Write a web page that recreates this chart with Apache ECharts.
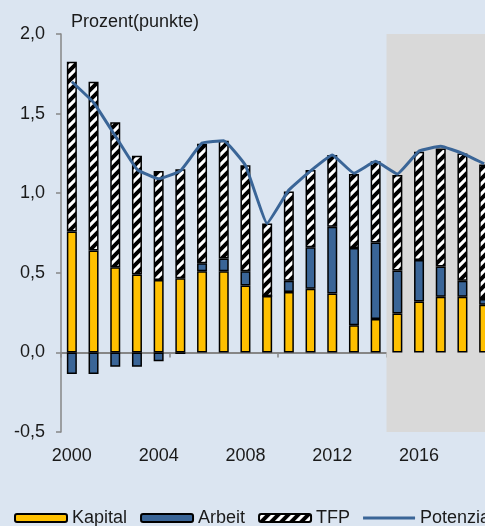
<!DOCTYPE html>
<html>
<head>
<meta charset="utf-8">
<script src="https://cdn.jsdelivr.net/npm/echarts@6/dist/echarts.min.js"></script>
<style>
  html, body { margin: 0; padding: 0; background: #dbe5f1; }
  #chart { width: 485px; height: 526px; }
</style>
</head>
<body>
<div id="chart"></div>
<script>
// Daten
const years = ['2000','2001','2002','2003','2004','2005','2006','2007','2008','2009',
               '2010','2011','2012','2013','2014','2015','2016','2017','2018','2019'];
const kapital = [0.76, 0.64, 0.535, 0.49, 0.455, 0.465, 0.51, 0.51, 0.42, 0.355,
                 0.38, 0.40, 0.37, 0.17, 0.21, 0.245, 0.32, 0.35, 0.35, 0.30];
const arbeit = [-0.135, -0.135, -0.09, -0.09, -0.055, -0.01, 0.05, 0.08, 0.09, 0,
                0.07, 0.26, 0.42, 0.485, 0.48, 0.27, 0.26, 0.19, 0.10, 0.035];
const tfp = [1.065, 1.06, 0.91, 0.745, 0.685, 0.685, 0.75, 0.74, 0.665, 0.455,
             0.56, 0.485, 0.45, 0.465, 0.51, 0.60, 0.68, 0.74, 0.80, 0.845];
const potenzial = [1.70, 1.57, 1.36, 1.15, 1.09, 1.14, 1.315, 1.33, 1.175, 0.81,
                   1.02, 1.14, 1.24, 1.125, 1.20, 1.12, 1.265, 1.295, 1.25, 1.185];
// Prognosezeitraum (Index der Kategorien)
const prognoseStart = 14.5;
const prognoseEnd = 19.5;

// Schraffur für TFP
const hatch = document.createElement('canvas');
hatch.width = 10;
hatch.height = 10;
const hctx = hatch.getContext('2d');
hctx.fillStyle = '#ffffff';
hctx.fillRect(0, 0, 10, 10);
hctx.strokeStyle = '#000000';
hctx.lineWidth = 4;
hctx.beginPath();
hctx.moveTo(-2, 12); hctx.lineTo(12, -2);
hctx.moveTo(-7, 7); hctx.lineTo(7, -7);
hctx.moveTo(3, 17); hctx.lineTo(17, 3);
hctx.stroke();

const chart = echarts.init(document.getElementById('chart'));
const font = 'Arial, "Liberation Sans", sans-serif';
const textColor = '#1a1a1a';
const axisGrey = '#868686';
const lineBlue = '#3a6597';

const barStyle = {
  borderColor: '#000',
  borderWidth: 1.5
};

const option = {
  backgroundColor: '#dbe5f1',
  animation: false,
  textStyle: { fontFamily: font },
  grid: { left: 61, top: 34, width: 434, bottom: 94, outerBoundsMode: 'none', containLabel: false },
  graphic: [{
    type: 'text',
    left: 71,
    top: 13,
    style: { text: 'Prozent(punkte)', font: '18px ' + font, fill: textColor }
  }],
  legend: {
    left: 9,
    top: 504,
    width: 800,
    itemWidth: 52,
    itemHeight: 8,
    itemGap: 13,
    textStyle: { fontSize: 18, color: textColor, fontFamily: font },
    data: [
      'Kapital',
      'Arbeit',
      'TFP',
      { name: 'Potenzialwachstum', icon: 'path://M0,0 L52,0 L52,3 L0,3 Z', itemStyle: { color: lineBlue, borderWidth: 0 } }
    ]
  },
  xAxis: [
    {
      type: 'category',
      data: years,
      axisLine: { onZero: true, lineStyle: { color: axisGrey, width: 2 } },
      axisTick: { show: true, interval: 4, length: 5, lineStyle: { color: axisGrey, width: 1.5 } },
      axisLabel: { show: false }
    },
    {
      type: 'category',
      data: years,
      position: 'bottom',
      axisLine: { show: false, onZero: false },
      axisTick: { show: false },
      axisLabel: { interval: 3, fontSize: 18, color: textColor, margin: 15 }
    },
    {
      type: 'value',
      min: -0.5,
      max: 19.5,
      show: false
    }
  ],
  yAxis: {
    type: 'value',
    min: -0.5,
    max: 2,
    interval: 0.5,
    splitLine: { show: false },
    axisLine: { show: true, onZero: false, lineStyle: { color: axisGrey, width: 1.5 } },
    axisTick: { show: true, length: 5, lineStyle: { color: axisGrey, width: 1.5 } },
    axisLabel: {
      fontSize: 18,
      color: textColor,
      margin: 16,
      formatter: v => v.toFixed(1).replace('.', ',')
    }
  },
  series: [
    {
      name: 'Prognose',
      type: 'line',
      xAxisIndex: 2,
      data: [],
      markArea: {
        silent: true,
        itemStyle: { color: '#d9d9d9' },
        data: [[{ xAxis: prognoseStart, yAxis: 2 }, { xAxis: prognoseEnd, yAxis: -0.5 }]]
      }
    },
    {
      name: 'Kapital',
      type: 'bar',
      stack: 'wachstum',
      barWidth: 10,
      data: kapital,
      itemStyle: Object.assign({ color: '#ffc000' }, barStyle)
    },
    {
      name: 'Arbeit',
      type: 'bar',
      stack: 'wachstum',
      barWidth: 10,
      data: arbeit,
      itemStyle: Object.assign({ color: '#3a6597' }, barStyle)
    },
    {
      name: 'TFP',
      type: 'bar',
      stack: 'wachstum',
      barWidth: 10,
      data: tfp,
      itemStyle: Object.assign({ color: { image: hatch, repeat: 'repeat' } }, barStyle)
    },
    {
      name: 'Potenzialwachstum',
      type: 'line',
      data: potenzial,
      symbol: 'none',
      smooth: 0.1,
      z: 5,
      lineStyle: { color: lineBlue, width: 3 },
      itemStyle: { color: lineBlue }
    }
  ]
};

chart.setOption(option);
</script>
</body>
</html>
